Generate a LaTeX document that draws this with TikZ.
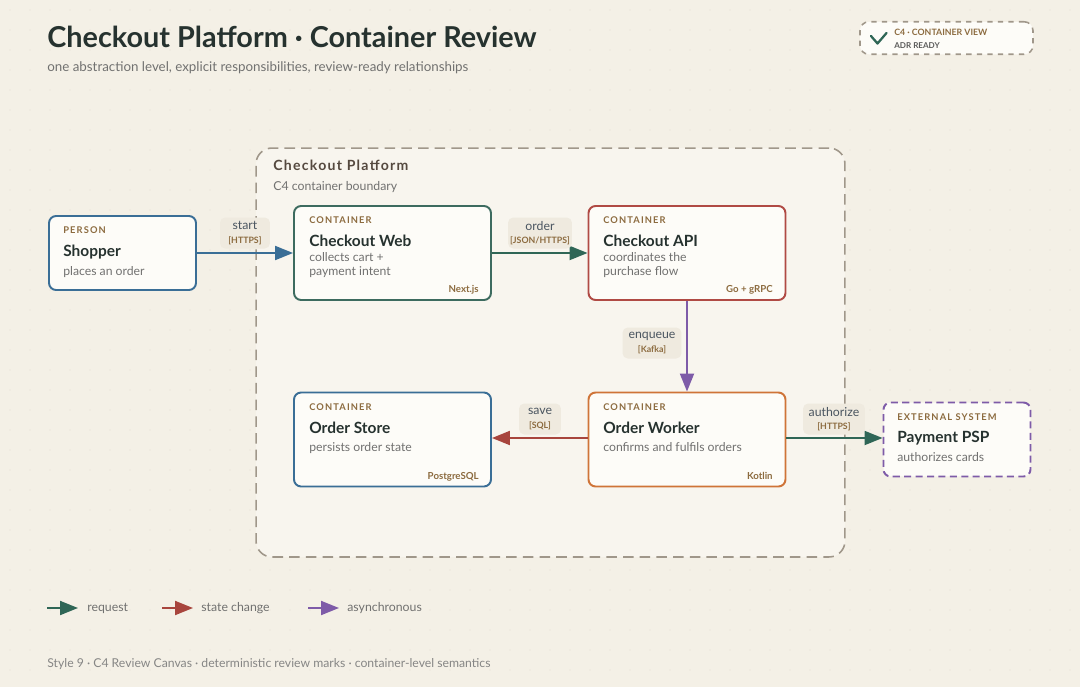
\documentclass[tikz,border=0pt]{standalone}
\usepackage{fontspec}
\setmainfont{Lato}
\usetikzlibrary{arrows.meta}
\definecolor{bgcream}{HTML}{F4F0E6}
\definecolor{dotcol}{HTML}{E4DED1}
\definecolor{boundfill}{HTML}{F8F5EE}
\definecolor{boxfill}{HTML}{FDFCF8}
\definecolor{inkdark}{HTML}{26322F}
\definecolor{brownlbl}{HTML}{8C6B3F}
\definecolor{graytxt}{HTML}{717170}
\definecolor{labelink}{HTML}{4A5560}
\definecolor{chipfill}{HTML}{EFEADF}
\definecolor{dashgray}{HTML}{A0978A}
\definecolor{boundink}{HTML}{55493F}
\definecolor{storeblue}{HTML}{3A6E96}
\definecolor{webgreen}{HTML}{3D6B5F}
\definecolor{apired}{HTML}{B04A44}
\definecolor{workerorange}{HTML}{CF7438}
\definecolor{asyncpurple}{HTML}{7E5BA8}
\definecolor{linegreen}{HTML}{2F6656}
\definecolor{linered}{HTML}{A8453D}
\tikzstyle{containerBox}=[shape = rectangle, rounded corners = 4pt, line width = 1.1pt, fill = boxfill, minimum width = 3.94cm, minimum height = 1.88cm, inner sep = 0pt]
\tikzstyle{personBox}=[shape = rectangle, rounded corners = 4pt, line width = 1.1pt, fill = boxfill, minimum width = 2.94cm, minimum height = 1.48cm, inner sep = 0pt]
\tikzstyle{kindText}=[anchor = base west, inner sep = 0pt, text = brownlbl, font = \fontsize{5.3}{6}\selectfont\bfseries\addfontfeatures{LetterSpace=12}]
\tikzstyle{nameText}=[anchor = base west, inner sep = 0pt, text = inkdark, font = \fontsize{8.8}{10}\selectfont\bfseries]
\tikzstyle{descText}=[anchor = base west, inner sep = 0pt, text = graytxt, font = \fontsize{6.95}{8}\selectfont]
\tikzstyle{techText}=[anchor = base east, inner sep = 0pt, text = brownlbl, font = \fontsize{5.5}{6}\selectfont\bfseries]

\begin{document}
\begin{tikzpicture}[x = 0.02cm, y = -0.02cm]
\tikzstyle{chipLabel}=[fill = chipfill, rounded corners = 3pt, align = center, inner sep = 0pt, minimum height = 0.62cm, text = labelink, font = \fontsize{7}{6}\selectfont]
\tikzstyle{relArrow}=[line width = 1.1pt, -{Triangle[length = 0.36cm, width = 0.28cm]}]
\tikzstyle{legendText}=[anchor = west, inner sep = 0pt, text = graytxt, font = \fontsize{7}{8}\selectfont]
\fill[bgcream] (0,0) rectangle (1080,687);
\path[use as bounding box] (0,0) rectangle (1080,687);
\foreach \gx in {10,30,...,1070} {\foreach \gy in {10,30,...,680} {\fill[dotcol] (\gx,\gy) circle (0.012cm);}}
\node[anchor = base west, inner sep = 0pt, text = inkdark, font = \fontsize{16.4}{18}\selectfont\bfseries] (title) at (47,47.5) {Checkout Platform · Container Review};
\node[anchor = base west, inner sep = 0pt, text = graytxt, font = \fontsize{7.6}{8}\selectfont] (subtitle) at (47,71) {one abstraction level, explicit responsibilities, review-ready relationships};
\node[shape = rectangle, rounded corners = 5pt, draw = dashgray, dashed, line width = 0.9pt, fill = boxfill, minimum width = 3.46cm, minimum height = 0.65cm] (badge) at (946.5,38) {};
\draw[linegreen, line width = 1.3pt, line cap = round, line join = round] (871,36) -- (877.5,43.5) -- (886.5,33);
\node[anchor = base west, inner sep = 0pt, text = brownlbl, font = \fontsize{5}{5}\selectfont\bfseries] (badgetitle) at (894,35) {C4 · CONTAINER VIEW};
\node[anchor = base west, inner sep = 0pt, text = graytxt!80!black, font = \fontsize{4.6}{5}\selectfont\bfseries] (badgesub) at (894,48) {ADR READY};
\node[shape = rectangle, rounded corners = 9pt, draw = dashgray, dashed, dash pattern = on 6pt off 3.5pt, line width = 0.9pt, fill = boundfill, minimum width = 11.78cm, minimum height = 8.18cm] (boundary) at (550.5,352.5) {};
\node[anchor = base west, inner sep = 0pt, text = boundink, font = \fontsize{8}{9}\selectfont\bfseries\addfontfeatures{LetterSpace=9}] (boundtitle) at (273,170) {Checkout Platform};
\node[anchor = base west, inner sep = 0pt, text = graytxt, font = \fontsize{7}{8}\selectfont] (boundsub) at (273,190) {C4 container boundary};
\node[personBox, draw = storeblue] (shopper) at (122.5,253) {};
\node[kindText] (shopperkind) at (63,233.5) {PERSON};
\node[nameText] (shoppername) at (63,256) {Shopper};
\node[descText] (shopperdesc) at (63,275) {places an order};
\node[containerBox, draw = webgreen] (web) at (392.5,253) {};
\node[kindText] (webkind) at (309,223.5) {CONTAINER};
\node[nameText] (webname) at (309,246) {Checkout Web};
\node[descText] (webdesc1) at (309,261) {collects cart +};
\node[descText] (webdesc2) at (309,275) {payment intent};
\node[techText] (webtech) at (479,292) {Next.js};
\node[containerBox, draw = apired] (api) at (687,253) {};
\node[kindText] (apikind) at (603,223.5) {CONTAINER};
\node[nameText] (apiname) at (603,246) {Checkout API};
\node[descText] (apidesc1) at (603,261) {coordinates the};
\node[descText] (apidesc2) at (603,275) {purchase flow};
\node[techText] (apitech) at (773,292) {Go + gRPC};
\node[containerBox, draw = storeblue] (store) at (392.5,439.5) {};
\node[kindText] (storekind) at (309,410.5) {CONTAINER};
\node[nameText] (storename) at (309,433) {Order Store};
\node[descText] (storedesc) at (309,451.5) {persists order state};
\node[techText] (storetech) at (479,479.5) {PostgreSQL};
\node[containerBox, draw = workerorange] (worker) at (687,439.5) {};
\node[kindText] (workerkind) at (603,410.5) {CONTAINER};
\node[nameText] (workername) at (603,433) {Order Worker};
\node[descText] (workerdesc) at (603,451.5) {confirms and fulfils orders};
\node[techText] (workertech) at (773,479.5) {Kotlin};
\node[personBox, draw = asyncpurple, dashed, dash pattern = on 4pt off 2.5pt] (psp) at (957,439.5) {};
\node[kindText] (pspkind) at (897,420) {EXTERNAL SYSTEM};
\node[nameText] (pspname) at (897,442.5) {Payment PSP};
\node[descText] (pspdesc) at (897,461) {authorizes cards};
\draw[relArrow, storeblue] (shopper.east) -- (web.west);
\draw[relArrow, linegreen] (web.east) -- (api.west);
\draw[relArrow, asyncpurple] (api.south) -- (worker.north);
\draw[relArrow, linered] (worker.west |- 0,438) -- (store.east |- 0,438);
\draw[relArrow, linegreen] (worker.east |- 0,438) -- (psp.west |- 0,438);
\node[chipLabel, minimum width = 1cm] (startlbl) at (245,233) {start\\[1.5pt]{\fontsize{5}{5}\selectfont\bfseries\color{brownlbl}[HTTPS]}};
\node[chipLabel, minimum width = 1.28cm] (orderlbl) at (540,233) {order\\[1.5pt]{\fontsize{5}{5}\selectfont\bfseries\color{brownlbl}[JSON/HTTPS]}};
\node[chipLabel, minimum width = 1.18cm] (enqueuelbl) at (652,343) {enqueue\\[1.5pt]{\fontsize{5}{5}\selectfont\bfseries\color{brownlbl}[Kafka]}};
\node[chipLabel, minimum width = 0.84cm] (savelbl) at (540,419) {save\\[1.5pt]{\fontsize{5}{5}\selectfont\bfseries\color{brownlbl}[SQL]}};
\node[chipLabel, minimum width = 1.24cm] (authlbl) at (834,419) {authorize\\[1.5pt]{\fontsize{5}{5}\selectfont\bfseries\color{brownlbl}[HTTPS]}};
\coordinate (reqA) at (47,608);
\coordinate (reqB) at (78,608);
\coordinate (stateA) at (162,608);
\coordinate (stateB) at (193,608);
\coordinate (asyncA) at (308,608);
\coordinate (asyncB) at (339,608);
\draw[relArrow, linegreen] (reqA) -- (reqB);
\draw[relArrow, linered] (stateA) -- (stateB);
\draw[relArrow, asyncpurple] (asyncA) -- (asyncB);
\node[legendText] (reqtxt) at (87,608) {request};
\node[legendText] (statetxt) at (201,608) {state change};
\node[legendText] (asynctxt) at (347,608) {asynchronous};
\node[anchor = base west, inner sep = 0pt, text = graytxt!85, font = \fontsize{6.95}{8}\selectfont] (footer) at (47,667) {Style 9 · C4 Review Canvas · deterministic review marks · container-level semantics};
\end{tikzpicture}
\end{document}
